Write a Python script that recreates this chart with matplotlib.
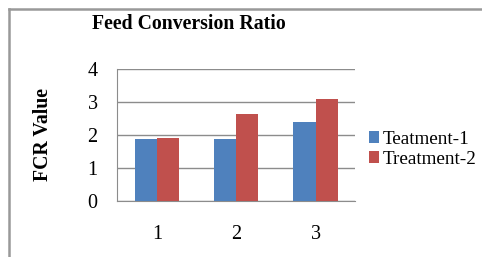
import matplotlib.pyplot as plt
import numpy as np
from matplotlib.lines import Line2D

groups = ["1", "2", "3"]
treat1 = [1.87, 1.87, 2.38]
treat2 = [1.92, 2.64, 3.10]
series_names = ["Teatment-1", "Treatment-2"]

plt.rcParams['font.family'] = ['Liberation Serif', 'DejaVu Serif']

fig = plt.figure(figsize=(4.82, 2.57), dpi=100)
ax = fig.add_axes([0.243, 0.218, 0.494, 0.514])

x = np.arange(1, len(groups) + 1)
w = 0.28
ax.bar(x - w/2, treat1, w, color='#4F81BD', label=series_names[0], zorder=3)
ax.bar(x + w/2, treat2, w, color='#C0504D', label=series_names[1], zorder=3)

ax.set_xlim(0.5, 3.5)
ax.set_ylim(0, 4)
ax.set_yticks([0, 1, 2, 3, 4])
ax.set_xticks(x)
ax.set_xticklabels(groups)
ax.yaxis.grid(True, color='#8c8c8c', lw=1, zorder=0)
ax.tick_params(length=0, labelsize=14.5, pad=14)
ax.tick_params(axis='x', pad=17)
for s in ['top', 'right']:
    ax.spines[s].set_visible(False)
for s in ['left', 'bottom']:
    ax.spines[s].set_color('#8c8c8c')

ax.set_ylabel('FCR Value', fontsize=14.2, fontweight='bold', labelpad=25)
fig.text(0.392, 0.905, 'Feed Conversion Ratio', fontsize=14.2, fontweight='bold',
         ha='center', va='center')

ax.legend(loc='center left', bbox_to_anchor=(1.0, 0.39), frameon=False,
          fontsize=13.8, handlelength=0.55, handleheight=0.55, handletextpad=0.2,
          labelspacing=0.15, borderaxespad=0.3)

# outer frame
fig.add_artist(Line2D([9/482, 9/482], [0, 1 - 9/257], color='#999999', lw=1.8,
                      transform=fig.transFigure))
fig.add_artist(Line2D([9/482, 1], [1 - 9/257, 1 - 9/257], color='#999999', lw=1.8,
                      transform=fig.transFigure))

fig.savefig('out.png', dpi=100)
